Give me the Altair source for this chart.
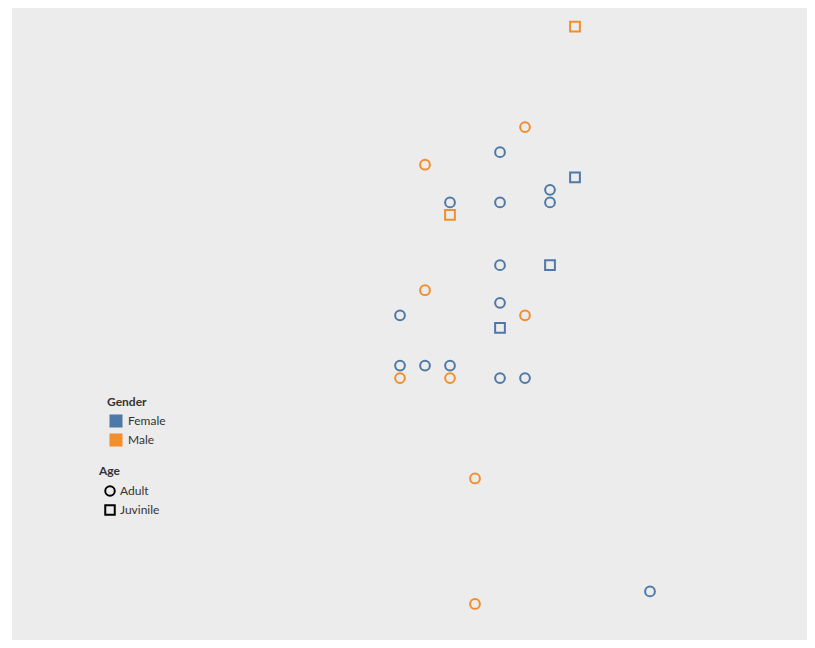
import altair as alt
import pandas as pd

# Data (grid units)
xs = [7, 5, 4, 1, 7, 6, 2, 4, 6, 2, 4, 6, 1, 4, 0, 5, 4, 0, 1, 2, 0, 2, 4, 5, 3, 10, 3]
ys = [46, 38, 36, 35, 34, 33, 32, 32, 32, 31, 27, 27, 25, 24, 23, 23, 22, 19, 19, 19, 18, 18, 18, 18, 10, 1, 0]
genders = ["Male", "Male", "Female", "Male", "Female", "Female", "Female", "Female", "Female",
           "Male", "Female", "Female", "Male", "Female", "Female", "Male", "Female",
           "Female", "Female", "Female", "Male", "Male", "Female", "Female", "Male", "Female", "Male"]
ages = ["Juvinile", "Adult", "Adult", "Adult", "Juvinile", "Adult", "Adult", "Adult", "Adult",
        "Juvinile", "Adult", "Juvinile", "Adult", "Adult", "Adult", "Adult", "Juvinile",
        "Adult", "Adult", "Adult", "Adult", "Adult", "Adult", "Adult", "Adult", "Adult", "Adult"]

df = pd.DataFrame({"x": xs, "y": ys, "Gender": genders, "Age": ages})

gender_domain = ["Female", "Male"]
gender_colors = ["#4e79a7", "#f28e2b"]
age_domain = ["Adult", "Juvinile"]

FONT = "Lato"

xenc = alt.X("x:Q", scale=alt.Scale(domain=[-15.52, 16.28], nice=False, zero=False), axis=None)
yenc = alt.Y("y:Q", scale=alt.Scale(domain=[-2.87, 47.49], nice=False, zero=False), axis=None)

points = alt.Chart(df).mark_point(filled=False, strokeWidth=2, size=95, opacity=1).encode(
    x=xenc,
    y=yenc,
    color=alt.Color("Gender:N", scale=alt.Scale(domain=gender_domain, range=gender_colors), legend=None),
    shape=alt.Shape("Age:N", scale=alt.Scale(domain=age_domain, range=["circle", "square"]),
                    legend=alt.Legend(title="Age", orient="none", legendX=87, legendY=458,
                                      symbolStrokeColor="black", symbolFillColor="transparent",
                                      symbolStrokeWidth=2, symbolSize=90, rowPadding=1,
                                      labelOffset=4, titlePadding=7, symbolOffset=5)),
)

gender_leg = alt.Chart(df).mark_square(size=0, opacity=1).encode(
    x=xenc,
    y=yenc,
    fill=alt.Fill("Gender:N", scale=alt.Scale(domain=gender_domain, range=gender_colors),
                  legend=alt.Legend(title="Gender", orient="none", legendX=95, legendY=389,
                                    symbolType="square", symbolSize=170, symbolStrokeWidth=0,
                                    rowPadding=5, labelOffset=5, titlePadding=5,
                                    symbolOffset=2)),
)

chart = alt.layer(points, gender_leg).resolve_scale(
    color="independent", fill="independent"
).properties(
    width=795, height=632,
    autosize=alt.AutoSizeParams(type="none"),
    padding={"left": 4, "top": 0, "right": 0, "bottom": 0},
    background="white",
).configure_view(
    fill="#ececec", stroke=None
).configure_legend(
    titleFont=FONT, labelFont=FONT, titleFontSize=12, labelFontSize=12,
    titleColor="#333333", labelColor="#333333", titleFontWeight="bold",
    padding=0,
)

chart.save("out.html", embed_options={"renderer": "svg", "actions": False})
